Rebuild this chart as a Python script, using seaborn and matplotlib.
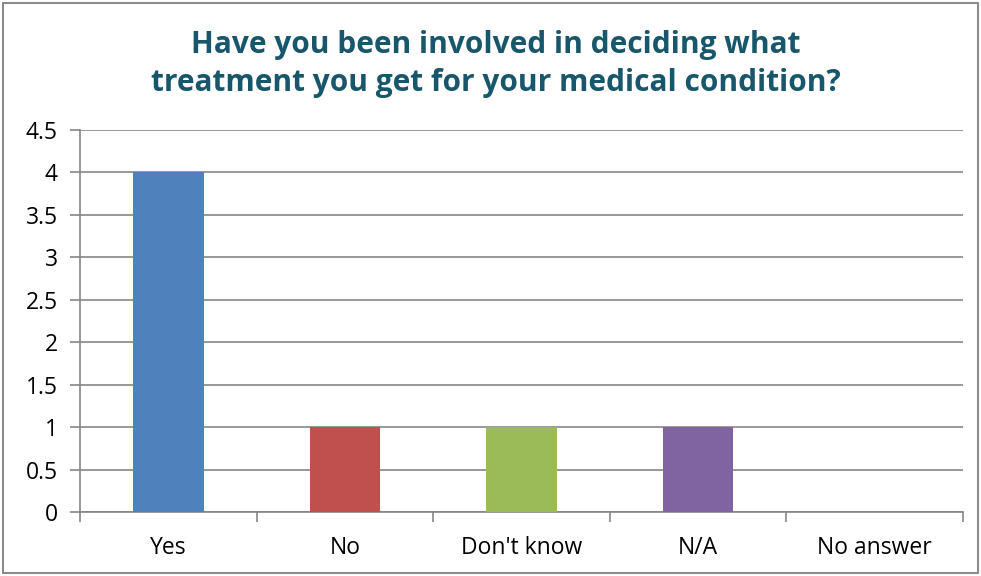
import matplotlib
matplotlib.use("Agg")
import matplotlib.pyplot as plt
import seaborn as sns
import pandas as pd
from matplotlib.patches import Rectangle

categories = ["Yes", "No", "Don't know", "N/A", "No answer"]
counts = [4, 1, 1, 1, 0]
bar_colors = ["#4F81BD", "#C0504D", "#9BBB59", "#8064A2", "#4BACC6"]
y_ticks = [0, 0.5, 1, 1.5, 2, 2.5, 3, 3.5, 4, 4.5]
y_tick_labels = ["0", "0.5", "1", "1.5", "2", "2.5", "3", "3.5", "4", "4.5"]
title = "Have you been involved in deciding what\ntreatment you get for your medical condition?"

df = pd.DataFrame({"answer": categories, "count": counts})

sns.set_theme(style="white")
plt.rcParams["font.family"] = ["Open Sans", "DejaVu Sans"]

fig = plt.figure(figsize=(9.81, 5.76), dpi=100)
ax = fig.add_axes([80 / 981, 1 - 512 / 576, 883 / 981, 382 / 576])

sns.barplot(data=df, x="answer", y="count", hue="answer", palette=bar_colors,
            width=0.40, saturation=1, legend=False, ax=ax, zorder=3,
            linewidth=0, edgecolor="none")

grid_col = "#868686"
ax.set_ylim(0, 4.5)
ax.set_xlim(-0.5, len(categories) - 0.5)
ax.set_yticks(y_ticks)
ax.set_yticklabels(y_tick_labels)
ax.yaxis.grid(True, color=grid_col, linewidth=1.2, zorder=0)
ax.set_axisbelow(True)

for side in ["top", "right"]:
    ax.spines[side].set_visible(False)
for side in ["left", "bottom"]:
    ax.spines[side].set_color(grid_col)
    ax.spines[side].set_linewidth(1.2)

# category boundaries as outward tick marks
ax.set_xticks([i + 0.5 for i in range(-1, len(categories))], minor=True)
ax.set_xticks(range(len(categories)))
ax.set_xticklabels(categories)
ax.tick_params(axis="x", which="major", length=0, pad=17, labelsize=16.5, labelcolor="black")
ax.tick_params(axis="x", which="minor", bottom=True, length=7, width=1.2, color=grid_col, direction="out")
ax.tick_params(axis="y", left=True, length=7, width=1.2, color=grid_col, direction="out",
               pad=9, labelsize=16.5, labelcolor="black")
ax.set_xlabel("")
ax.set_ylabel("")

fig.text(0.505, 1 - 64 / 576, title, ha="center", va="center", fontsize=21.5,
         fontweight="bold", color="#17566B", linespacing=1.32)

fig.patches.append(Rectangle((3 / 981, 3 / 576), 975 / 981, 570 / 576, transform=fig.transFigure,
                             fill=False, edgecolor="#8C8C8C", linewidth=1.5))

fig.savefig("out.png", dpi=100)
